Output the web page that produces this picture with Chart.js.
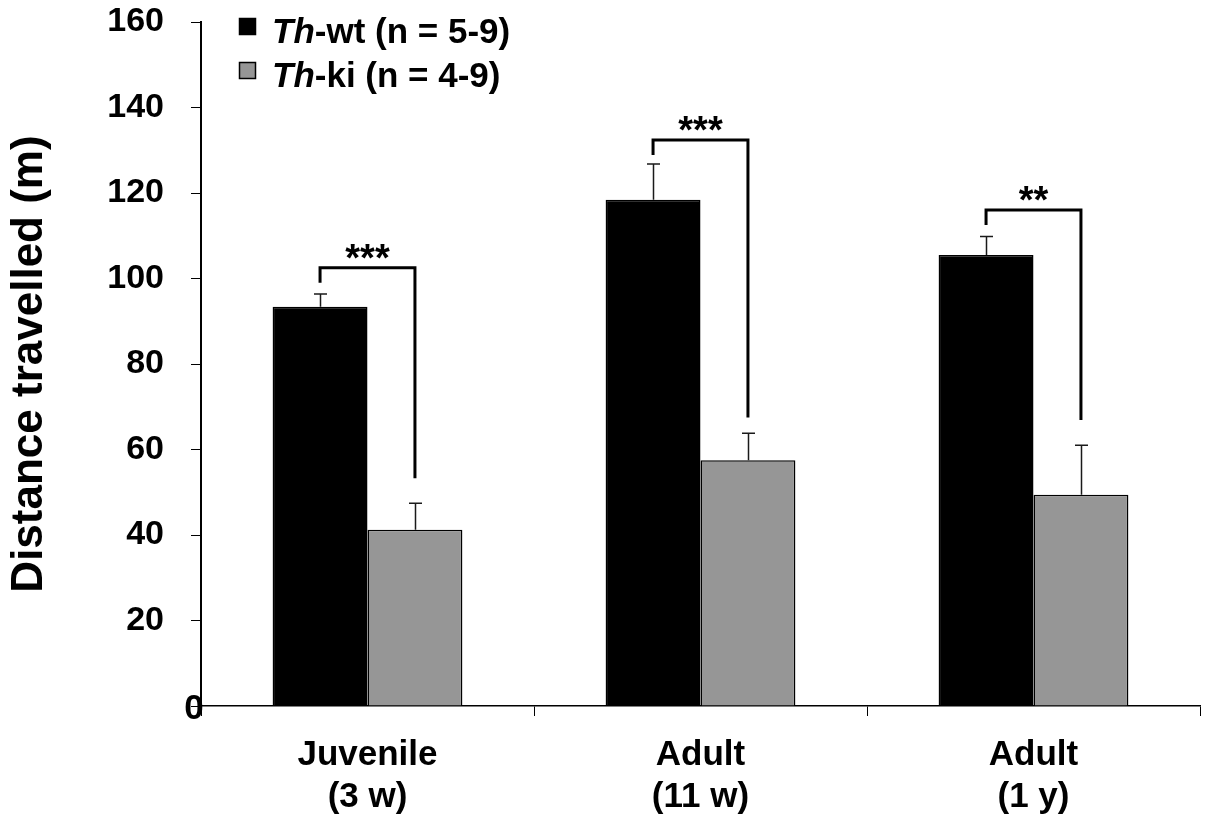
<!DOCTYPE html>
<html>
<head>
<meta charset="utf-8">
<script src="https://cdn.jsdelivr.net/npm/chart.js@4.4.1/dist/chart.umd.min.js"></script>
<style>
html,body{margin:0;padding:0;background:#fff;}
#wrap{width:1205px;height:822px;position:relative;}
</style>
</head>
<body>
<div id="wrap"><canvas id="c"></canvas></div>
<script>
// ---- data ----
const categories = [['Juvenile', '(3 w)'], ['Adult', '(11 w)'], ['Adult', '(1 y)']];
const seriesNames = ['Th-wt (n = 5-9)', 'Th-ki (n = 4-9)'];
const wtMeans = [93.4, 118.4, 105.5];
const wtSEM = [3.0, 8.4, 4.3];
const kiMeans = [41.2, 57.5, 49.4];
const kiSEM = [6.2, 6.3, 11.6];
const bracketLevel = [102.5, 132.4, 116.0];
const bracketLeftEnd = [99.0, 128.9, 112.5];
const bracketRightEnd = [53.3, 67.5, 66.9];
const significance = ['***', '***', '**'];
const yMin = 0, yMax = 160, yStep = 20;
const yTitle = 'Distance travelled (m)';

const FONT = '"Liberation Sans", Arial, Helvetica, sans-serif';
const wtColor = '#000000';
const kiColor = '#969696';

const bgPlugin = {
  id: 'bg',
  beforeDraw(chart) {
    const ctx = chart.ctx;
    ctx.save();
    ctx.fillStyle = '#fff';
    ctx.fillRect(0, 0, chart.width, chart.height);
    ctx.restore();
  }
};

const extrasPlugin = {
  id: 'extras',
  afterDatasetsDraw(chart) {
    const ctx = chart.ctx;
    const ys = chart.scales.y;
    const errs = [wtSEM, kiSEM];
    const means = [wtMeans, kiMeans];
    ctx.save();
    // error bars (upper only)
    ctx.strokeStyle = '#1a1a1a';
    ctx.lineWidth = 1.5;
    for (let d = 0; d < 2; d++) {
      const meta = chart.getDatasetMeta(d);
      meta.data.forEach((bar, j) => {
        const x = Math.round(bar.x) + 0.5;
        const yT = ys.getPixelForValue(means[d][j] + errs[d][j]);
        const yB = ys.getPixelForValue(means[d][j]);
        ctx.beginPath();
        ctx.moveTo(x, yB);
        ctx.lineTo(x, yT);
        ctx.moveTo(x - 6.5, yT);
        ctx.lineTo(x + 6.5, yT);
        ctx.stroke();
      });
    }
    // significance brackets
    const m0 = chart.getDatasetMeta(0), m1 = chart.getDatasetMeta(1);
    ctx.strokeStyle = '#000';
    ctx.lineWidth = 3;
    ctx.lineJoin = 'miter';
    ctx.fillStyle = '#000';
    ctx.font = 'bold 38px ' + FONT;
    ctx.textAlign = 'center';
    ctx.textBaseline = 'alphabetic';
    categories.forEach((c, j) => {
      const xL = m0.data[j].x, xR = m1.data[j].x;
      const yH = ys.getPixelForValue(bracketLevel[j]);
      const yL = ys.getPixelForValue(bracketLeftEnd[j]);
      const yR = ys.getPixelForValue(bracketRightEnd[j]);
      ctx.beginPath();
      ctx.moveTo(xL, yL);
      ctx.lineTo(xL, yH);
      ctx.lineTo(xR, yH);
      ctx.lineTo(xR, yR);
      ctx.stroke();
      const mt = ctx.measureText(significance[j]);
      const desc = mt.actualBoundingBoxDescent || 0;
      // ink bottom a few px above the bracket line
      ctx.fillText(significance[j], (xL + xR) / 2, yH - 9 - desc);
    });
    ctx.restore();
  },
  afterDraw(chart) {
    const ctx = chart.ctx;
    const ys = chart.scales.y;
    ctx.save();
    // the "0" label, which sits on the axis in the reference
    ctx.fillStyle = '#000';
    ctx.font = 'bold 35px ' + FONT;
    ctx.textAlign = 'center';
    ctx.textBaseline = 'middle';
    ctx.fillText(String(yMin), chart.scales.y.right - 7, ys.getPixelForValue(yMin) + 3);
    // legend
    const colors = [wtColor, kiColor];
    const baselines = [43, 87];
    seriesNames.forEach((name, i) => {
      const sy = baselines[i] - 25;
      ctx.fillStyle = colors[i];
      ctx.fillRect(239, sy, 17, 17);
      ctx.strokeStyle = '#000';
      ctx.lineWidth = 1.5;
      ctx.strokeRect(239.5, sy + 0.5, 16, 16);
      const k = name.indexOf('-');
      const italicPart = name.slice(0, k);
      const rest = name.slice(k);
      ctx.fillStyle = '#000';
      ctx.textAlign = 'left';
      ctx.textBaseline = 'alphabetic';
      ctx.font = 'italic bold 35px ' + FONT;
      ctx.fillText(italicPart, 272, baselines[i]);
      const w = ctx.measureText(italicPart).width;
      ctx.font = 'bold 35px ' + FONT;
      ctx.fillText(rest, 272 + w, baselines[i]);
    });
    ctx.restore();
  }
};

new Chart(document.getElementById('c'), {
  type: 'bar',
  data: {
    labels: categories,
    datasets: [
      { label: seriesNames[0], data: wtMeans, backgroundColor: wtColor, borderColor: '#000', borderWidth: 1.5,
        categoryPercentage: 0.57, barPercentage: 1.0 },
      { label: seriesNames[1], data: kiMeans, backgroundColor: kiColor, borderColor: '#000', borderWidth: 1.5,
        categoryPercentage: 0.57, barPercentage: 1.0 }
    ]
  },
  options: {
    responsive: true,
    maintainAspectRatio: false,
    animation: false,
    devicePixelRatio: 1,
    layout: { padding: { left: 0, right: 5, top: 22, bottom: 0 } },
    plugins: { legend: { display: false }, tooltip: { enabled: false } },
    scales: {
      x: {
        grid: { display: true, drawOnChartArea: false, drawTicks: true, tickLength: 10, color: '#000', lineWidth: 1, offset: true },
        border: { display: true, color: '#000', width: 1.5 },
        ticks: { color: '#000', font: { family: FONT, size: 35, weight: 'bold', lineHeight: 1.2 }, padding: 18, maxRotation: 0, autoSkip: false },
        afterFit(scale) { scale.height = 116; scale.paddingLeft = 0; scale.paddingRight = 0; }
      },
      y: {
        min: yMin, max: yMax,
        grid: { display: true, drawOnChartArea: false, drawTicks: true, tickLength: 10, color: '#000', lineWidth: 1 },
        border: { display: true, color: '#000', width: 2 },
        ticks: { stepSize: yStep, color: '#000', font: { family: FONT, size: 34, weight: 'bold' }, padding: 27,
                  callback: (v) => (v === yMin ? '' : v) },
        title: { display: true, text: yTitle, color: '#000', font: { family: FONT, size: 44, weight: 'bold' }, padding: { top: 3, bottom: 0 } },
        afterFit(scale) { scale.width = 201; scale.paddingTop = 0; scale.paddingBottom = 0; }
      }
    }
  },
  plugins: [bgPlugin, extrasPlugin]
});
</script>
</body>
</html>
